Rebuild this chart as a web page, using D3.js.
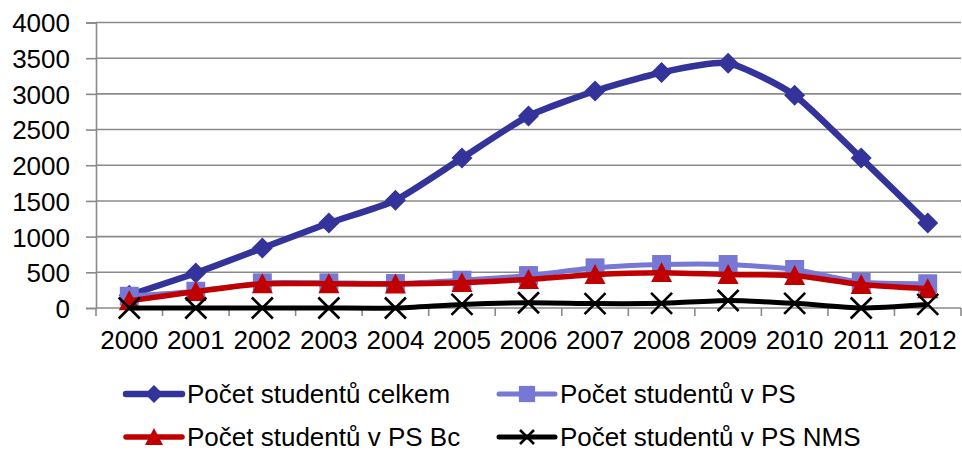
<!DOCTYPE html>
<html>
<head>
<meta charset="utf-8">
<script src="https://cdn.jsdelivr.net/npm/d3@7"></script>
<style>
  body { margin: 0; background: #fff; }
  text { font-family: 'Liberation Sans', Arial, sans-serif; fill: #000; }
</style>
</head>
<body>
<svg id="chart" width="962" height="451"></svg>
<script>
/* global d3 */

// Data
const years = ['2000', '2001', '2002', '2003', '2004', '2005', '2006',
  '2007', '2008', '2009', '2010', '2011', '2012'];
const celkem = [180, 490, 840, 1190, 1510, 2100, 2690, 3040, 3300, 3430, 2980, 2100, 1190];
const vPS = [165, 235, 353, 353, 343, 390, 455, 563, 610, 610, 540, 360, 340];
const vPSBc = [100, 230, 340, 340, 335, 355, 400, 470, 495, 470, 455, 330, 270];
const vPSNMS = [0, 0, 0, 0, 0, 50, 73, 62, 65, 105, 65, 0, 50];
const yTicks = [0, 500, 1000, 1500, 2000, 2500, 3000, 3500, 4000];
const seriesNames = ['Počet studentů celkem', 'Počet studentů v PS',
  'Počet studentů v PS Bc', 'Počet studentů v PS NMS'];

const svg = d3.select('#chart');
const plot = { left: 96, right: 961, top: 22.5, bottom: 308 };
const gridColor = '#8a8a8a';

const x = d3.scaleBand().domain(years).range([plot.left, plot.right]);
const y = d3.scaleLinear().domain([0, 4000]).range([plot.bottom, plot.top]);
const cx = d => x(d) + x.bandwidth() / 2;

// series styles (order = drawing order)
const series = [
  { name: seriesNames[0], values: celkem, color: '#333399', width: 6.5, marker: 'diamond' },
  { name: seriesNames[1], values: vPS, color: '#7777d6', width: 5, marker: 'square' },
  { name: seriesNames[2], values: vPSBc, color: '#c00000', width: 5.5, marker: 'triangle' },
  { name: seriesNames[3], values: vPSNMS, color: '#000000', width: 5, marker: 'cross' },
];

// gridlines
svg.append('g').selectAll('line').data(yTicks.filter(t => t > 0)).enter()
  .append('line')
  .attr('x1', plot.left).attr('x2', plot.right)
  .attr('y1', d => y(d)).attr('y2', d => y(d))
  .attr('stroke', gridColor).attr('stroke-width', 1.6);

// y axis
const yAxis = svg.append('g').attr('transform', `translate(${plot.left},0)`)
  .call(d3.axisLeft(y).tickValues(yTicks).tickFormat(d3.format('d'))
    .tickSize(10).tickPadding(16));
yAxis.select('.domain').attr('stroke', gridColor).attr('stroke-width', 1.6);
yAxis.selectAll('.tick line').attr('stroke', gridColor).attr('stroke-width', 1.6);
yAxis.selectAll('.tick text').attr('font-size', 26).attr('dy', '0.36em')
  .style('font-family', "'Liberation Sans', Arial, sans-serif");

// x axis: ticks sit between the categories
const xAxis = svg.append('g').attr('transform', `translate(0,${plot.bottom})`);
xAxis.append('line').attr('x1', plot.left).attr('x2', plot.right)
  .attr('stroke', gridColor).attr('stroke-width', 1.6);
xAxis.selectAll('line.tk').data(years.concat(['end'])).enter()
  .append('line').attr('class', 'tk')
  .attr('x1', (d, i) => plot.left + i * x.bandwidth())
  .attr('x2', (d, i) => plot.left + i * x.bandwidth())
  .attr('y1', 0).attr('y2', 8)
  .attr('stroke', gridColor).attr('stroke-width', 1.6);
xAxis.selectAll('text').data(years).enter()
  .append('text')
  .attr('x', d => cx(d)).attr('y', 41)
  .attr('text-anchor', 'middle').attr('font-size', 26)
  .text(d => d);

// marker drawing
function drawMarker(g, type, color, s) {
  if (type === 'diamond') {
    g.append('path').attr('d', `M0,${-s}L${s},0L0,${s}L${-s},0Z`).attr('fill', color);
  } else if (type === 'square') {
    g.append('rect').attr('x', -s * 0.9).attr('y', -s * 0.9)
      .attr('width', s * 1.8).attr('height', s * 1.8).attr('fill', color);
  } else if (type === 'triangle') {
    g.append('path').attr('d', `M0,${-s}L${s},${s * 0.9}L${-s},${s * 0.9}Z`).attr('fill', color);
  } else {
    g.append('path').attr('d', `M${-s},${-s}L${s},${s}M${-s},${s}L${s},${-s}`)
      .attr('stroke', color).attr('stroke-width', 2.6).attr('fill', 'none');
  }
}

const line = d3.line()
  .x((d, i) => cx(years[i]))
  .y(d => y(d))
  .curve(d3.curveCardinal.tension(0.4));

series.forEach((s) => {
  const g = svg.append('g');
  g.append('path').datum(s.values)
    .attr('d', line)
    .attr('fill', 'none')
    .attr('stroke', s.color)
    .attr('stroke-width', s.width)
    .attr('stroke-linejoin', 'round');
  s.values.forEach((v, i) => {
    const m = g.append('g').attr('transform', `translate(${cx(years[i])},${y(v)})`);
    drawMarker(m, s.marker, s.color, 10.5);
  });
});

// legend (2 x 2)
const legendCols = [126, 499];
const legendRows = [394, 437];
series.forEach((s, i) => {
  const lx = legendCols[i % 2];
  const ly = legendRows[Math.floor(i / 2)];
  const g = svg.append('g').attr('transform', `translate(${lx},${ly})`);
  g.append('line').attr('x1', 0).attr('x2', 56)
    .attr('stroke', s.color).attr('stroke-width', s.width)
    .attr('stroke-linecap', 'round');
  const m = g.append('g').attr('transform', 'translate(28,0)');
  drawMarker(m, s.marker, s.color, s.marker === 'cross' ? 7 : 9);
  g.append('text').attr('x', 61).attr('y', 9)
    .attr('font-size', 26).text(s.name);
});
</script>
</body>
</html>
